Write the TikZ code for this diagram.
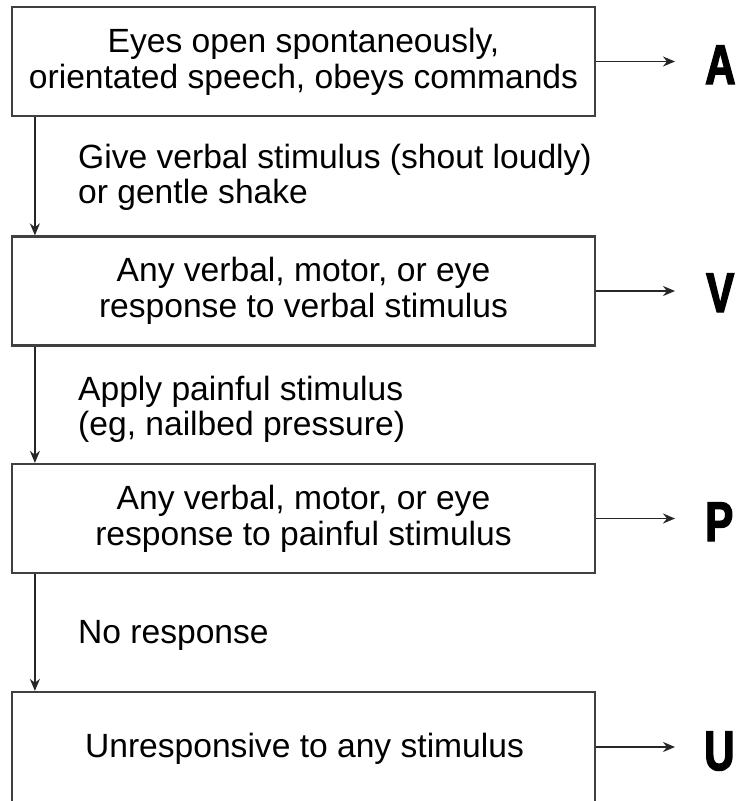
\documentclass[tikz,border=0pt]{standalone}
\usepackage{fontspec}
\setmainfont{Liberation Sans}
\newfontfamily\letterfont[FakeStretch=0.75,FakeBold=2.5]{Liberation Sans Bold}
\usetikzlibrary{arrows.meta}
\begin{document}
\begin{tikzpicture}[x=1pt,y=-1pt,
  box/.style={draw=black!75, line width=2.2pt, minimum width=583pt, minimum height=109pt,
    inner sep=0pt, align=center, font=\fontsize{33.6}{36}\selectfont},
  txt/.style={anchor=base, inner sep=0pt, font=\fontsize{33.6}{36}\selectfont},
  lbl/.style={anchor=base west, inner sep=0pt, font=\fontsize{33.6}{35}\selectfont},
  letter/.style={anchor=base west, inner sep=0pt, font=\letterfont\fontsize{56}{56}\selectfont},
  arr/.style={-{Stealth[length=12pt,width=10pt]}, line width=1.8pt, draw=black!85, fill=black!85}]
\clip (0,0) rectangle (741,801);
\fill[white] (0,0) rectangle (741,801);
% boxes
\node[box] (b1) at (303.5,61.5) {Eyes open spontaneously,\\orientated speech, obeys commands};
\node[box] (b2) at (303.5,291) {Any verbal, motor, or eye\\response to verbal stimulus};
\node[box] (b3) at (303.5,518.5) {Any verbal, motor, or eye\\response to painful stimulus};
\node[box, minimum height=130pt] (b4) at (303.5,757) {};
\node[txt] (t4) at (304.5,757) {Unresponsive to any stimulus};
% step labels
\node[lbl] (l1) at (78,168) {\vtop{\hbox{Give verbal stimulus (shout loudly)}\hbox{or gentle shake}}};
\node[lbl] (l2) at (78,400) {\vtop{\hbox{Apply painful stimulus}\hbox{(eg, nailbed pressure)}}};
\node[lbl] (l3) at (78,643) {No response};
% down arrows
\draw[arr] ([xshift=24pt]b1.south west) -- ([xshift=24pt]b2.north west);
\draw[arr] ([xshift=24pt]b2.south west) -- ([xshift=24pt]b3.north west);
\draw[arr] ([xshift=24pt]b3.south west) -- ([xshift=24pt]b4.north west);
% result letters
\node[letter] (A) at (705,84) {A};
\node[letter] (V) at (706,312) {V};
\node[letter] (P) at (705,541) {P};
\node[letter] (U) at (704,770) {U};
\coordinate (eA) at (675,61.5);
\coordinate (eV) at (675,291);
\coordinate (eP) at (675,518.5);
\coordinate (eU) at (675,747);
\draw[arr] (b1.east) -- (eA);
\draw[arr] (b2.east) -- (eV);
\draw[arr] (b3.east) -- (eP);
\draw[arr] (b4.east |- eU) -- (eU);
\end{tikzpicture}
\end{document}
